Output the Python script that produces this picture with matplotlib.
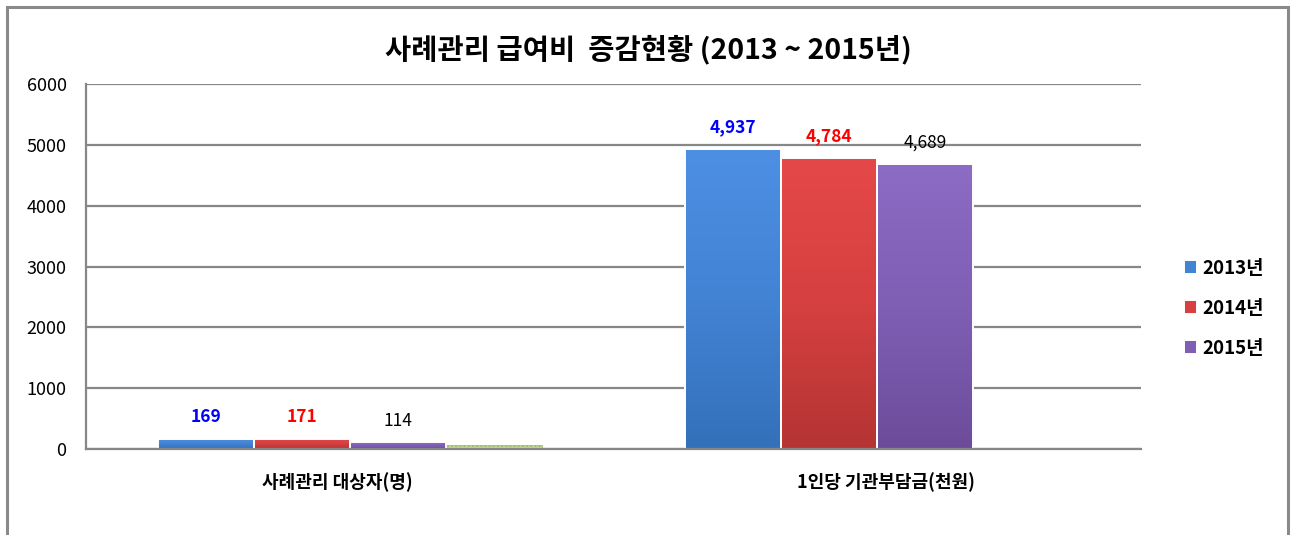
import matplotlib
matplotlib.use("Agg")
import matplotlib.pyplot as plt
from matplotlib.patches import Rectangle
from matplotlib.colors import LinearSegmentedColormap
import numpy as np

plt.rcParams['font.family'] = ['Noto Sans CJK KR', 'DejaVu Sans']

categories = ['사례관리 대상자(명)', '1인당 기관부담금(천원)']
series_names = ['2013년', '2014년', '2015년']
v2013 = [169, 4937]
v2014 = [171, 4784]
v2015 = [114, 4689]
v_extra = [60, 0]
label_text_2013 = ['169', '4,937']
label_text_2014 = ['171', '4,784']
label_text_2015 = ['114', '4,689']
yticks = [0, 1000, 2000, 3000, 4000, 5000, 6000]
title = '사례관리 급여비  증감현황 (2013 ~ 2015년)'

top_colors = ['#4d8fe3', '#e54848', '#8c6cc4']
bot_colors = ['#3471bb', '#b53434', '#6c4c9a']
mid_colors = ['#4383d4', '#d64040', '#7f5fb4']
label_colors = ['#0000ff', '#ff0000', '#000000']
label_weights = ['bold', 'bold', 'normal']

W, H = 1295, 535
fig = plt.figure(figsize=(W/100, H/100), dpi=100)
ax = fig.add_axes([86/W, 1-449/H, (1141-86)/W, (449-84)/H])

# outer chart border
fig.patches.append(Rectangle((7/W, -0.05), (1288-7)/W, (1+0.05) - 7/H, transform=fig.transFigure,
                             fill=False, edgecolor='#8a8a8a', linewidth=2.2))

x = np.arange(len(categories))
pitch = 0.182
bw = 0.182
series = [v2013, v2014, v2015]
texts = [label_text_2013, label_text_2014, label_text_2015]
grad = np.linspace(1, 0, 64).reshape(-1, 1)
for i, vals in enumerate(series):
    pos = x + (i - 1.5) * pitch
    cmap = LinearSegmentedColormap.from_list('g%d' % i, [bot_colors[i], mid_colors[i], top_colors[i]])
    bars = ax.bar(pos, vals, width=bw, color=mid_colors[i], edgecolor='white', linewidth=1.4,
                  label=series_names[i], zorder=3)
    for b in bars:
        x0, w, h = b.get_x(), b.get_width(), b.get_height()
        im = ax.imshow(grad, extent=[x0, x0 + w, 0, h], aspect='auto', cmap=cmap,
                       vmin=0, vmax=1, zorder=3.1, interpolation='bilinear')
        im.set_clip_path(b)
        ax.add_patch(Rectangle((x0, 0), w, h, fill=False, edgecolor='white', linewidth=1.4, zorder=3.2))
    for p, v, t in zip(pos, vals, texts[i]):
        ax.annotate(t, (p, v), xytext=(0, 15.5), textcoords='offset points', ha='center', va='center',
                    fontsize=12.5, color=label_colors[i], fontweight=label_weights[i], zorder=5)
pos4 = x + 1.5 * pitch
ax.bar(pos4, v_extra, width=bw, color='#c3d69b', edgecolor='#9bbb59', hatch='....', linewidth=0.5, zorder=3)

ax.set_xlim(-0.5, 1.5)
ax.set_ylim(0, 6000)
ax.set_yticks(yticks)
ax.set_yticklabels([str(t) for t in yticks], fontsize=13)
ax.set_xticks(x)
ax.set_xticklabels([])
shifts = [-9, 6]
for xi, cat, dx in zip(x, categories, shifts):
    ax.annotate(cat, (xi, 0), xycoords=('data', 'axes fraction'), xytext=(dx, -24),
                textcoords='offset points', ha='center', va='center',
                fontsize=13, fontweight='bold', annotation_clip=False)
ax.tick_params(axis='y', length=0, pad=14)
ax.tick_params(axis='x', length=0)
ax.grid(axis='y', color='#878787', linewidth=1.6, zorder=0)
for s in ['top', 'right']:
    ax.spines[s].set_visible(False)
ax.spines['left'].set_color('#878787')
ax.spines['left'].set_linewidth(1.6)
ax.spines['bottom'].set_color('#878787')
ax.spines['bottom'].set_linewidth(1.6)
ax.spines['bottom'].set_zorder(4)

fig.text(648/W, 1-50/H, title, ha='center', va='center', fontsize=20.5, fontweight='bold')

leg = fig.legend(loc='center left', bbox_to_anchor=(1167/W, 1-308/H), frameon=False,
                 handlelength=0.7, handleheight=0.7, handletextpad=0.3, labelspacing=1.12,
                 prop={'size': 13.5, 'weight': 'bold'})

fig.savefig('out.png', dpi=100)
